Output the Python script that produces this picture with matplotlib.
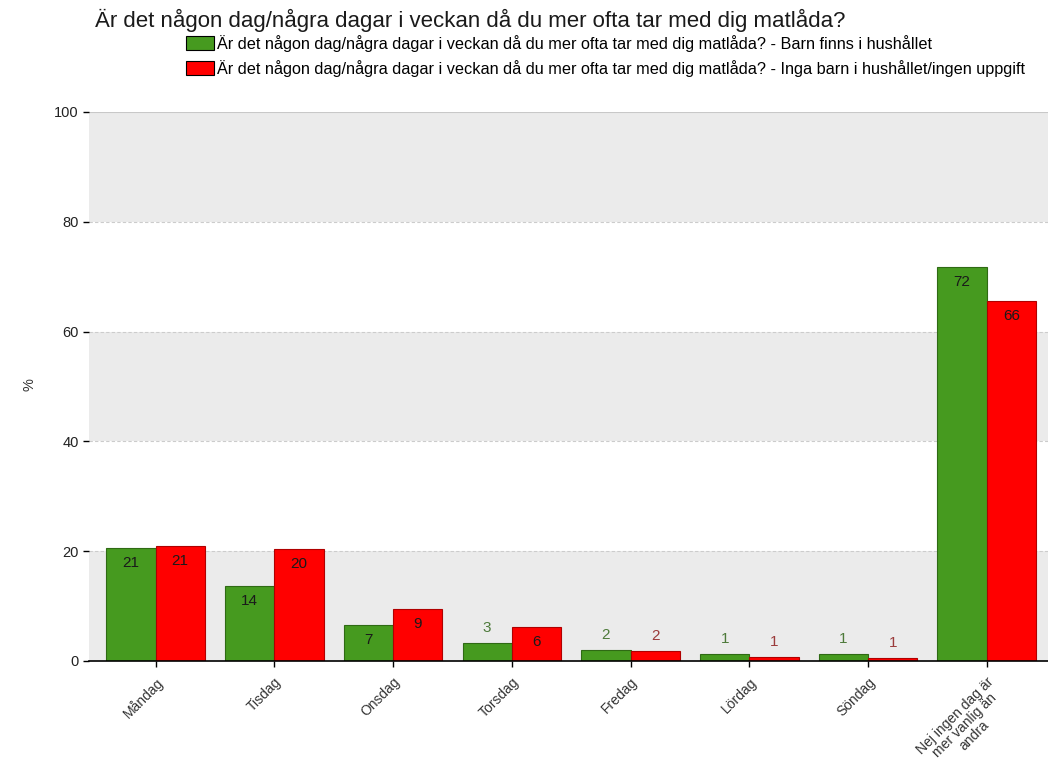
import numpy as np
import matplotlib
matplotlib.use('Agg')
import matplotlib.pyplot as plt
from matplotlib.patches import Patch

plt.rcParams['font.family'] = ['Liberation Sans', 'DejaVu Sans']

title = 'Är det någon dag/några dagar i veckan då du mer ofta tar med dig matlåda?'
categories = ['Måndag', 'Tisdag', 'Onsdag', 'Torsdag', 'Fredag', 'Lördag', 'Söndag',
              'Nej ingen dag är\nmer vanlig än\nandra']
barn = [20.6, 13.7, 6.6, 3.3, 2.0, 1.3, 1.3, 71.8]
ingaBarn = [20.9, 20.4, 9.5, 6.2, 1.9, 0.8, 0.55, 65.6]
labelsBarn = [21, 14, 7, 3, 2, 1, 1, 72]
labelsInga = [21, 20, 9, 6, 2, 1, 1, 66]
series = [title + ' - Barn finns i hushållet',
          title + ' - Inga barn i hushållet/ingen uppgift']
yticks = [0, 20, 40, 60, 80, 100]

green = '#469a1f'
red = '#ff0000'

fig = plt.figure(figsize=(10.48, 7.72), dpi=100)
ax = fig.add_axes([0.085, 0.1438, 0.92, 0.7113])

# alternating bands
for i in range(0, 100, 20):
    if (i // 20) % 2 == 0:
        ax.axhspan(i, i + 20, color='#ebebeb', zorder=0, lw=0)
for y in [20, 40, 60, 80]:
    ax.axhline(y, color='#cccccc', ls=(0, (3, 2)), lw=0.8, zorder=1)
ax.axhline(100, color='#c8c8c8', lw=1.5, zorder=1)

x = np.arange(len(categories))
w = 0.415
ax.bar(x - w/2, barn, w, color=green, edgecolor='#2f6a14', lw=0.8, zorder=2)
ax.bar(x + w/2, ingaBarn, w, color=red, edgecolor='#b00000', lw=0.8, zorder=2)

def addLabels(xs, vals, labs, darkCol):
    for xi, v, lab in zip(xs, vals, labs):
        if v > 5:
            ax.text(xi, v - 2.7, str(lab), ha='center', va='center', fontsize=11,
                    color='#1a1a1a', zorder=3)
        else:
            ax.text(xi, v + 2.7, str(lab), ha='center', va='center', fontsize=11,
                    color=darkCol, zorder=3)

addLabels(x - w/2, barn, labelsBarn, '#4d7a3a')
addLabels(x + w/2, ingaBarn, labelsInga, '#9b3b3b')

ax.set_xlim(-0.56, 7.56)
ax.set_ylim(0, 100)
ax.set_yticks(yticks)
ax.set_yticklabels([str(t) for t in yticks], fontsize=10.5, color='#222222')
ax.set_xticks(x)
ax.set_xticklabels(categories, rotation=45, ha='right', rotation_mode='anchor',
                   fontsize=10, color='#333333', multialignment='center',
                   linespacing=0.95)
ax.tick_params(axis='both', length=4, width=1, color='black')
ax.tick_params(axis='x', pad=6)
for s in ['top', 'right', 'left']:
    ax.spines[s].set_visible(False)
ax.spines['bottom'].set_color('black')
ax.spines['bottom'].set_linewidth(1.2)

fig.text(30 / 1048, 1 - 385 / 772, '%', rotation=90, fontsize=10.5, color='#333333',
         ha='center', va='center')

fig.text(0.091, 0.974, title, fontsize=16, color='#1a1a1a', va='center', ha='left')

handles = [Patch(facecolor=green, edgecolor='black', lw=0.8),
           Patch(facecolor=red, edgecolor='black', lw=0.8)]
fig.legend(handles, series, loc='upper left', bbox_to_anchor=(0.167, 0.9695),
           frameon=False, fontsize=11.7, handlelength=1.7, handleheight=0.95,
           handletextpad=0.2, labelspacing=0.5, borderpad=0.2)

fig.savefig('out.png', dpi=100)
